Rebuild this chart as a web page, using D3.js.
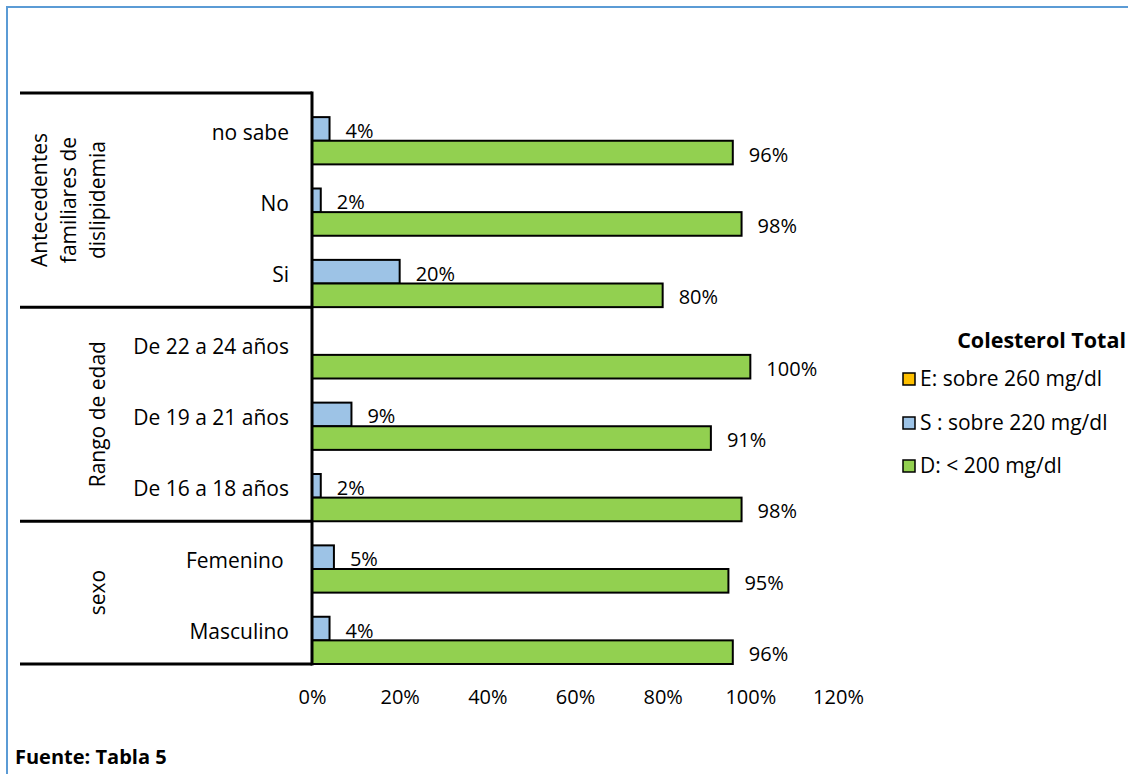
<!DOCTYPE html>
<html>
<head>
<meta charset="utf-8">
<script src="https://cdn.jsdelivr.net/npm/d3@7"></script>
<style>
  html, body { margin: 0; padding: 0; background: #fff; }
  svg { display: block; }
  text { font-family: "Open Sans", "Noto Sans", sans-serif; fill: #000; }
</style>
</head>
<body>
<svg id="chart" width="1128" height="774"></svg>
<script>
// Categories, top to bottom as they appear on the axis
const categories = ["no sabe", "No", "Si", "De 22 a 24 años", "De 19 a 21 años", "De 16 a 18 años", "Femenino\u00a0", "Masculino"];

// Category groups (outer axis level)
const groupNames = ["Antecedentes familiares de dislipidemia", "Rango de edad", "sexo"];
const groupLines = [["Antecedentes", "familiares de", "dislipidemia"], ["Rango de edad"], ["sexo"]];
const groupMembers = [["no sabe", "No", "Si"], ["De 22 a 24 años", "De 19 a 21 años", "De 16 a 18 años"], ["Femenino\u00a0", "Masculino"]];

// Series (values are shares, 0–1)
const seriesKeys = ["E", "S", "D"];
const seriesLabels = ["E: sobre 260 mg/dl", "S : sobre 220 mg/dl", "D: < 200 mg/dl"];
const seriesColors = ["#ffc000", "#9dc3e6", "#92d050"];
const valuesE = [0, 0, 0, 0, 0, 0, 0, 0];
const valuesS = [0.04, 0.02, 0.20, 0, 0.09, 0.02, 0.05, 0.04];
const valuesD = [0.96, 0.98, 0.80, 1.00, 0.91, 0.98, 0.95, 0.96];

// Axis ticks
const xTicks = [0, 0.2, 0.4, 0.6, 0.8, 1.0, 1.2];

const legendTitle = "Colesterol Total";
const sourceNote = "Fuente: Tabla 5";

const seriesValues = { E: valuesE, S: valuesS, D: valuesD };

const svg = d3.select("#chart");

// Outer frame
svg.append("rect")
  .attr("x", 7).attr("y", 7)
  .attr("width", 1130).attr("height", 780)
  .attr("fill", "none")
  .attr("stroke", "#5b9bd5")
  .attr("stroke-width", 2);

const plot = { left: 312, top: 93, bottom: 664 };

const x = d3.scaleLinear().domain([0, 1.2]).range([plot.left, 838]);

const y = d3.scaleBand().domain(categories).range([plot.top, plot.bottom]).paddingInner(0).paddingOuter(0);

const ySub = d3.scaleBand().domain(seriesKeys).range([0.5, y.bandwidth()]).padding(0);

// Bars
const rows = categories.map((c, i) => ({ cat: c, vals: seriesKeys.map(k => ({ key: k, v: seriesValues[k][i] })) }));

const rowG = svg.append("g").selectAll("g").data(rows).join("g")
  .attr("transform", d => `translate(0,${y(d.cat)})`);

rowG.selectAll("rect").data(d => d.vals.filter(v => v.v > 0)).join("rect")
  .attr("x", x(0))
  .attr("y", d => ySub(d.key))
  .attr("width", d => x(d.v) - x(0))
  .attr("height", ySub.bandwidth())
  .attr("fill", d => seriesColors[seriesKeys.indexOf(d.key)])
  .attr("stroke", "#000")
  .attr("stroke-width", 2);

// Value labels
rowG.selectAll("text.val").data(d => d.vals.filter(v => v.v > 0)).join("text")
  .attr("class", "val")
  .attr("x", d => x(d.v) + 16)
  .attr("y", d => ySub(d.key) + ySub.bandwidth() / 2 + 2)
  .attr("dy", "0.35em")
  .attr("font-size", 20)
  .text(d => d3.format(".0%")(d.v));

// X axis tick labels (no axis line)
const xAxis = d3.axisBottom(x).tickValues(xTicks).tickFormat(d3.format(".0%")).tickSize(0).tickPadding(0);
const xg = svg.append("g").attr("transform", `translate(0,${plot.bottom + 26})`).call(xAxis);
xg.select(".domain").remove();
xg.selectAll("text").attr("font-size", 20).attr("font-family", "'Open Sans', sans-serif").attr("fill", "#000");

// Category axis: inner labels
const yAxis = d3.axisLeft(y).tickSize(0).tickPadding(23);
const yg = svg.append("g").attr("transform", `translate(${plot.left},0)`).call(yAxis);
yg.select(".domain").remove();
yg.selectAll("text").attr("font-size", 21).attr("font-family", "'Open Sans', sans-serif").attr("fill", "#000")
  .attr("dy", "0.52em").style("white-space", "pre");

// Group separator lines
const sepYs = [plot.top];
groupMembers.forEach(m => sepYs.push(y(m[m.length - 1]) + y.bandwidth()));
svg.append("g").selectAll("line").data(sepYs).join("line")
  .attr("x1", 20).attr("x2", plot.left)
  .attr("y1", d => d).attr("y2", d => d)
  .attr("stroke", "#000").attr("stroke-width", 3);

// Vertical category axis line
svg.append("line")
  .attr("x1", plot.left).attr("x2", plot.left)
  .attr("y1", plot.top - 1.5).attr("y2", plot.bottom + 1.5)
  .attr("stroke", "#000").attr("stroke-width", 3);

// Group labels (rotated)
const groupCenterX = [69, 98, 98];
groupNames.forEach((g, i) => {
  const m = groupMembers[i];
  const cy = (y(m[0]) + y(m[m.length - 1]) + y.bandwidth()) / 2;
  const lines = groupLines[i];
  const t = svg.append("text")
    .attr("transform", `translate(${groupCenterX[i]},${cy}) rotate(-90)`)
    .attr("text-anchor", "middle")
    .attr("font-size", 21);
  const lh = 29;
  lines.forEach((ln, j) => {
    t.append("tspan")
      .attr("x", 0)
      .attr("y", (j - (lines.length - 1) / 2) * lh)
      .attr("dy", "0.35em")
      .text(ln);
  });
});

// Legend
svg.append("text")
  .attr("x", 1126).attr("y", 340)
  .attr("text-anchor", "end")
  .attr("dy", "0.35em")
  .attr("font-size", 21.5)
  .attr("font-weight", "bold")
  .text(legendTitle);

const legendYs = [379, 423, 466];
const lg = svg.append("g").selectAll("g").data(seriesKeys).join("g")
  .attr("transform", (d, i) => `translate(903,${legendYs[i]})`);
lg.append("rect")
  .attr("x", 0).attr("y", -6).attr("width", 12).attr("height", 12)
  .attr("fill", (d, i) => seriesColors[i])
  .attr("stroke", "#000").attr("stroke-width", 1.5);
lg.append("text")
  .attr("x", 17).attr("y", 0)
  .attr("dy", "0.35em")
  .attr("font-size", 21)
  .text((d, i) => seriesLabels[i]);

// Source note
svg.append("text")
  .attr("x", 15).attr("y", 757)
  .attr("dy", "0.35em")
  .attr("font-size", 20)
  .attr("font-weight", "bold")
  .text(sourceNote);
</script>
</body>
</html>
